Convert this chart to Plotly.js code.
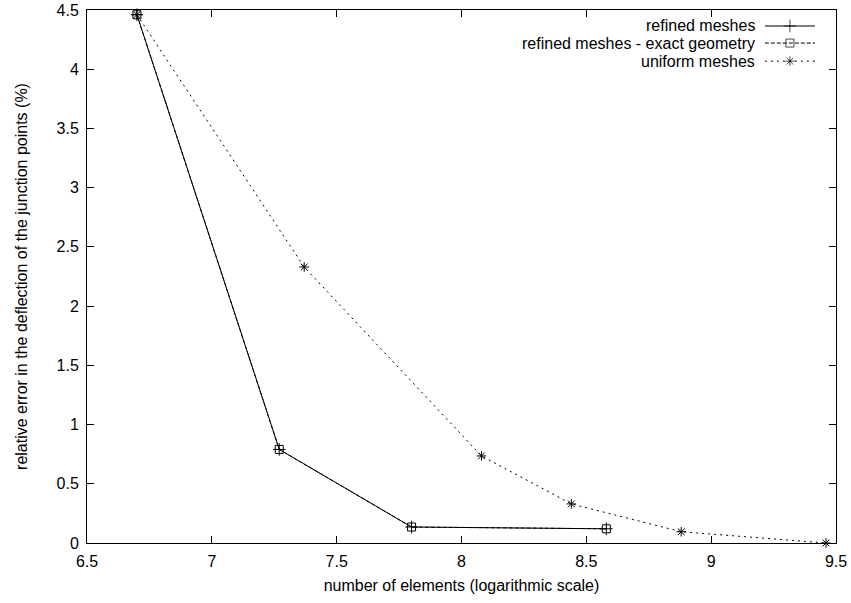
<!DOCTYPE html>
<html>
<head>
<meta charset="utf-8">
<script src="https://cdn.plot.ly/plotly-3.0.1.min.js"></script>
<style>html,body{margin:0;padding:0;background:#fff;}#chart{width:851px;height:603px;}</style>
</head>
<body>
<div id="chart"></div>
<script>
// ---- data ----
const refinedX = [6.70, 7.27, 7.80, 8.58];
const refinedY = [4.46, 0.79, 0.135, 0.12];
const exactX = [6.70, 7.27, 7.80, 8.58];
const exactY = [4.46, 0.79, 0.135, 0.12];
const uniformX = [6.70, 7.37, 8.08, 8.44, 8.88, 9.46];
const uniformY = [4.46, 2.33, 0.735, 0.33, 0.095, 0.0];
const seriesNames = ["refined meshes", "refined meshes - exact geometry", "uniform meshes"];
const xTitle = "number of elements (logarithmic scale)";
const yTitle = "relative error in the deflection of the junction points (%)";

const FONT = "Liberation Sans, Arial, Helvetica, sans-serif";
const styles = [
  {dash: "solid", symbol: "cross-thin-open", size: 9},
  {dash: "4px,2px", symbol: "square-open", size: 8},
  {dash: "2px,4px", symbol: "asterisk-open", size: 8}
];

function mk(x, y, i) {
  return {
    x: x, y: y, type: "scatter", mode: "lines+markers", name: seriesNames[i],
    showlegend: false, cliponaxis: false,
    line: {color: "#000", width: 1, dash: styles[i].dash, simplify: false},
    marker: {symbol: styles[i].symbol, size: styles[i].size, color: "#000", line: {color: "#000", width: 1}}
  };
}
const traces = [mk(uniformX, uniformY, 2), mk(exactX, exactY, 1), mk(refinedX, refinedY, 0)];

// gnuplot-style key: text right-aligned, sample on the right
const keyRows = [0.970, 0.938, 0.904];
const annotations = [];
seriesNames.forEach((n, i) => {
  annotations.push({xref: "paper", yref: "paper", x: 0.8945, y: keyRows[i], text: n,
    showarrow: false, xanchor: "right", yanchor: "middle", font: {family: FONT, size: 16, color: "#000"}});
  traces.push({x: [0, 0.5, 1], y: [keyRows[i], keyRows[i], keyRows[i]], xaxis: "x2", yaxis: "y2",
    type: "scatter", mode: "lines+markers", showlegend: false, hoverinfo: "skip", cliponaxis: false,
    line: {color: "#000", width: 1, dash: styles[i].dash},
    marker: {symbol: styles[i].symbol, size: [0, styles[i].size, 0], color: "#000", line: {color: "#000", width: 1}}});
});

const axisCommon = {
  showgrid: false, zeroline: false, showline: true, linecolor: "#000", linewidth: 1,
  mirror: "ticks", ticks: "inside", ticklen: 7, tickwidth: 1, tickcolor: "#000",
  tickfont: {family: FONT, size: 16, color: "#000"}, dtick: 0.5, layer: "below traces"
};

const layout = {
  width: 851, height: 603,
  margin: {l: 87, r: 15, t: 10, b: 60},
  paper_bgcolor: "#fff", plot_bgcolor: "rgba(0,0,0,0)",
  showlegend: false,
  font: {family: FONT, size: 16, color: "#000"},
  xaxis: Object.assign({}, axisCommon, {range: [6.5, 9.5], tick0: 6.5, ticklabelstandoff: 4,
    title: {text: xTitle, font: {family: FONT, size: 16, color: "#000"}, standoff: 10}}),
  yaxis: Object.assign({}, axisCommon, {range: [0, 4.5], tick0: 0, ticklabelstandoff: 4,
    title: {text: yTitle, font: {family: FONT, size: 16, color: "#000"}, standoff: 24}}),
  xaxis2: {domain: [0.905, 0.972], range: [0, 1], visible: false, anchor: "y2"},
  yaxis2: {domain: [0.88, 1], range: [0.88, 1], visible: false, anchor: "x2"},
  annotations: annotations
};

Plotly.newPlot("chart", traces, layout, {staticPlot: true, displayModeBar: false});
</script>
</body>
</html>
